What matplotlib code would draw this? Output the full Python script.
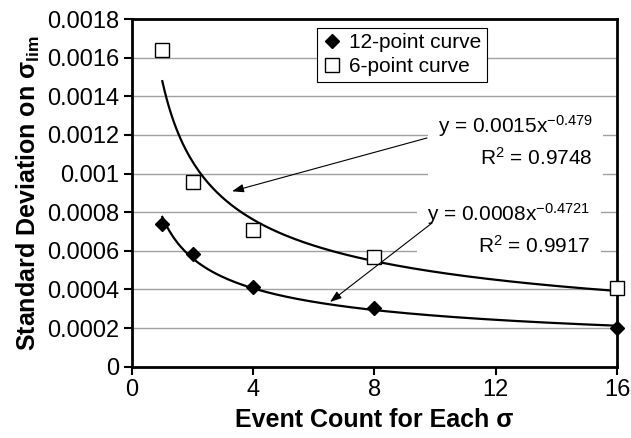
import numpy as np
import matplotlib
matplotlib.use('Agg')
import matplotlib.pyplot as plt

plt.rcParams['font.family'] = ['Liberation Sans', 'DejaVu Sans']
plt.rcParams['mathtext.fontset'] = 'custom'
plt.rcParams['mathtext.rm'] = 'Liberation Sans'
plt.rcParams['mathtext.it'] = 'Liberation Sans:italic'
plt.rcParams['mathtext.bf'] = 'Liberation Sans:bold'
plt.rcParams['mathtext.default'] = 'regular'

# event counts
counts = [1, 2, 4, 8, 16]
# standard deviation
sd_12pt = [0.000739, 0.000582, 0.000414, 0.000305, 0.000202]
sd_6pt = [0.00164, 0.000958, 0.000708, 0.000566, 0.000406]

eq_6pt = 'y = 0.0015x$^{-0.479}$\nR$^2$ = 0.9748'
eq_12pt = 'y = 0.0008x$^{-0.4721}$\nR$^2$ = 0.9917'

xticks = [0, 4, 8, 12, 16]
yticks = [0, 0.0002, 0.0004, 0.0006, 0.0008, 0.001, 0.0012, 0.0014, 0.0016, 0.0018]
ytick_labels = ['0', '0.0002', '0.0004', '0.0006', '0.0008', '0.001',
                '0.0012', '0.0014', '0.0016', '0.0018']


def power_fit(x, y):
    # same kind of fit as a spreadsheet power trendline
    b, a = np.polyfit(np.log(x), np.log(y), 1)
    xs = np.linspace(min(x), max(x), 200)
    return xs, np.exp(a) * xs ** b


fig = plt.figure(figsize=(6.31, 4.38), dpi=100)
ax = fig.add_axes([0.2092, 0.1628, 0.7686, 0.7938])

for v in yticks[1:-1]:
    ax.axhline(v, color='#a0a0a0', lw=1.0, zorder=1)

xs, ys = power_fit(counts, sd_6pt)
ax.plot(xs, ys, color='black', lw=1.6, zorder=3)
xs, ys = power_fit(counts, sd_12pt)
ax.plot(xs, ys, color='black', lw=1.6, zorder=3)

ax.plot(counts, sd_12pt, ls='none', marker='D', ms=7.5, color='black',
        label='12-point curve', zorder=5, clip_on=False)
ax.plot(counts, sd_6pt, ls='none', marker='s', ms=10.5, mfc='white', mec='black',
        mew=1.0, label='6-point curve', zorder=5, clip_on=False)

ax.set_xlim(0, 16)
ax.set_ylim(0, 0.0018)
ax.set_xticks(xticks)
ax.set_xticklabels([str(t) for t in xticks])
ax.set_yticks(yticks)
ax.set_yticklabels(ytick_labels)
ax.tick_params(direction='out', length=6, width=1.5, labelsize=17, pad=3)

for s in ax.spines.values():
    s.set_linewidth(2)
    s.set_color('black')

ax.set_xlabel('Event Count for Each σ', fontsize=18, fontweight='bold', labelpad=5)
ax.set_ylabel('Standard Deviation on σ$_{lim}$', fontsize=18, fontweight='bold', labelpad=4)

leg = ax.legend(loc='upper left', bbox_to_anchor=(0.381, 0.974), fontsize=15,
                frameon=True, fancybox=False, framealpha=1, edgecolor='black',
                borderpad=0.25, handletextpad=0.3, handlelength=1.0,
                labelspacing=0.25, borderaxespad=0)
leg.get_frame().set_linewidth(0.8)

box = dict(boxstyle='square,pad=0.5', fc='white', ec='none')
ax.text(15.21, 0.001168, eq_6pt, ha='right', va='center', multialignment='right',
        fontsize=15, linespacing=1.45, bbox=box, zorder=4)
ax.text(15.12, 0.000713, eq_12pt, ha='right', va='center', multialignment='right',
        fontsize=15, linespacing=1.45, bbox=box, zorder=4)

arrow = dict(arrowstyle='-|>,head_length=0.7,head_width=0.25', color='black', lw=0.8,
             shrinkA=0, shrinkB=0)
ax.annotate('', xy=(3.30, 0.000908), xytext=(9.73, 0.001184), arrowprops=arrow, zorder=6)
ax.annotate('', xy=(6.53, 0.000335), xytext=(9.90, 0.000744), arrowprops=arrow, zorder=6)

fig.savefig('out.png', dpi=100)
